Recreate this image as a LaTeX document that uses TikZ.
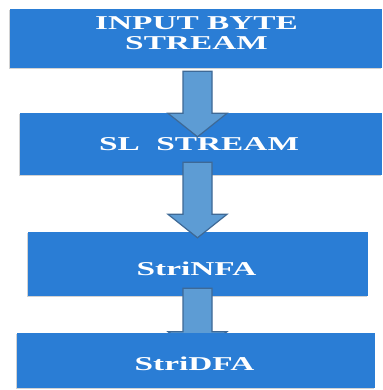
\documentclass[tikz,border=0pt]{standalone}
\usepackage{fontspec}
\setmainfont{Liberation Serif}
\usetikzlibrary{calc,shadows}
\definecolor{boxblue}{RGB}{42,125,213}
\definecolor{arrfill}{RGB}{93,156,212}
\definecolor{arredge}{RGB}{62,105,150}
\tikzset{
  flowbox/.style={rectangle, fill=boxblue, draw=none, inner sep=0pt,
    drop shadow={shadow xshift=-1.5pt, shadow yshift=-1.5pt, opacity=0.35, fill=gray}},
  boxtext/.style={anchor=base, inner sep=0pt, text=white,
    font=\fontsize{19.6pt}{19.5pt}\selectfont\bfseries},
  blockarrow/.style={fill=arrfill, draw=arredge, line width=1.2pt, line join=miter}
}
\newcommand{\flowarrow}[2]{%
  \path[blockarrow] let \p1=(#1), \p2=(#2) in
    (\x1-14.5pt,\y1) -- (\x1+14.5pt,\y1) -- (\x1+14.5pt,\y2+23.5pt) --
    (\x1+29.5pt,\y2+23.5pt) -- (\x1,\y2) -- (\x1-29.5pt,\y2+23.5pt) --
    (\x1-14.5pt,\y2+23.5pt) -- cycle;}
\begin{document}
\begin{tikzpicture}[x=1pt,y=1pt]
\useasboundingbox (0,0) rectangle (382,390);
\fill[white] (0,0) rectangle (382,390);
% boxes
\node[flowbox, minimum width=372pt, minimum height=59pt] (b1) at (196,351.5) {};
\node[flowbox, minimum width=362pt, minimum height=62pt] (b2) at (201,246) {};
\node[flowbox, minimum width=340pt, minimum height=64pt] (b3) at (198,126) {};
% texts
\node[boxtext] (t1a) at (196.5,360) {\scalebox{1.7}[1]{INPUT BYTE}};
\node[boxtext] (t1b) at (196.5,340.7) {\scalebox{1.7}[1]{STREAM}};
\node[boxtext] (t2) at (199,239) {\scalebox{1.7}[1]{SL\ \ STREAM}};
\node[boxtext] (t3) at (196.5,114) {\scalebox{1.7}[1]{StriNFA}};
% arrow axis and end points
\coordinate (axis) at (197.5,0);
\coordinate (a1s) at ($(axis |- b1.south)+(0,-3)$);
\coordinate (a1e) at ($(axis |- b2.north)+(0,-24)$);
\coordinate (a2s) at ($(axis |- b2.south)+(0,13)$);
\coordinate (a2e) at ($(axis |- b3.north)+(0,-6)$);
\coordinate (a3s) at ($(axis |- b3.south)+(0,8)$);
\coordinate (a3e) at ($(axis |- b3.south)+(0,-59)$);
\flowarrow{a1s}{a1e}
\flowarrow{a2s}{a2e}
\flowarrow{a3s}{a3e}
% last box covers third arrow head
\node[flowbox, minimum width=358pt, minimum height=55pt] (b4) at (196,29.5) {};
\node[boxtext] (t4) at (194.5,19) {\scalebox{1.7}[1]{StriDFA}};
\end{tikzpicture}
\end{document}
